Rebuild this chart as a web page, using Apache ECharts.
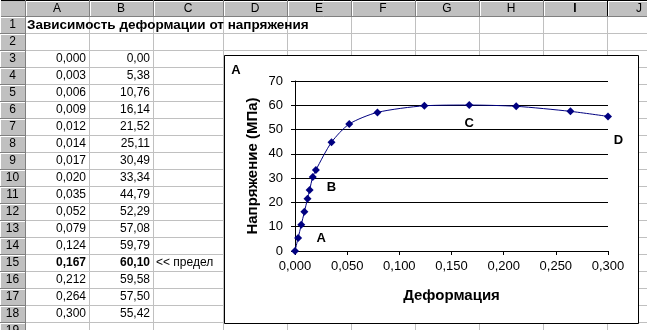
<!DOCTYPE html>
<html><head><meta charset="utf-8">
<script src="https://cdn.jsdelivr.net/npm/echarts@6/dist/echarts.min.js"></script>
<style>html,body{margin:0;padding:0;background:#fff}#c{width:647px;height:330px}</style>
</head><body><div id="c"></div>
<script>
// ---- data ----
const strain = [0.000,0.003,0.006,0.009,0.012,0.014,0.017,0.020,0.035,0.052,0.079,0.124,0.167,0.212,0.264,0.300];
const stress = [0.00,5.38,10.76,16.14,21.52,25.11,30.49,33.34,44.79,52.29,57.08,59.79,60.10,59.58,57.50,55.42];
const columnLetters = ['A','B','C','D','E','F','G','H','I','J'];
const sheetTitle = 'Зависимость деформации от напряжения';
const limitNote = '<< предел';
const xAxisName = 'Деформация';
const yAxisName = 'Напряжение (МПа)';
const yRange = [0, 70, 10];
const xRange = [0, 0.3, 0.05];
const pointNames = ['A','B','C','D'];
const pointAnchors = [[0.025,5.0],[0.035,26.0],[0.167,52.6],[0.31,45.6]];
const cornerLabel = 'A';

// ---- layout / style ----
const FONT = "'Liberation Sans', Arial, sans-serif";
const W = 647, H = 330;
const colX = [25,89,153,223,287,351,415,479,543,607,671];
const rowY = r => 16 + 17 * r;
const firstDataRow = 3;
const lastRow = 19;
const selectedCol = 8; // I
const limitIdx = stress.indexOf(Math.max(...stress));
const fmt = (v, d) => v.toFixed(d).replace('.', ',');

const g = [];
const Z = -10;
function line(x1,y1,x2,y2,c,z){ g.push({type:'line', z:z||Z, silent:true, shape:{x1,y1,x2,y2}, style:{stroke:c, lineWidth:1}}); }
function rect(x,y,w,h,fill,z){ g.push({type:'rect', z:z||Z, silent:true, shape:{x,y,width:w,height:h}, style:{fill:fill}}); }
function text(x,y,s,opt){ g.push({type:'text', z:(opt&&opt.z)||Z+1, silent:true, x:x, y:y, style:Object.assign({text:s, font:'12px '+FONT, fill:'#000', align:'left', verticalAlign:'middle'}, opt||{})}); }

// cell gridlines
for (let k = 1; k < colX.length; k++) line(colX[k]+0.5, 16, colX[k]+0.5, H, '#c0c0c0');
for (let r = 1; r <= lastRow; r++) line(25, rowY(r)+0.5, W, rowY(r)+0.5, '#c0c0c0');

// column header
rect(0, 0, W, 17, '#c0c0c0');
line(0, 0.5, W, 0.5, '#000');
for (let k = 0; k < columnLetters.length; k++) {
  const x0 = colX[k], x1 = colX[k+1];
  const sel = k === selectedCol;
  line(x0+1.5, 1, x0+1.5, 16, '#fff');
  line(x0+1, 1.5, x1, 1.5, '#fff');
  line(x1+0.5, 0, x1+0.5, 17, sel ? '#000' : '#808080');
  text((x0+x1)/2, 9, columnLetters[k], {align:'center', font:(sel?'bold ':'')+'12px '+FONT});
}
line(0, 16.5, W, 16.5, '#808080');
// row header
rect(0, 17, 25, H-17, '#c0c0c0');
line(0.5, 0, 0.5, H, '#fff');
line(25.5, 0, 25.5, H, '#808080');
for (let r = 1; r <= lastRow; r++) {
  line(1, rowY(r-1)+1.5, 25, rowY(r-1)+1.5, '#fff');
  line(0, rowY(r)+0.5, 25, rowY(r)+0.5, '#808080');
  text(12.5, rowY(r) - 8, String(r), {align:'center'});
}
// cells
text(27, rowY(1) - 8, sheetTitle, {font:'bold 13.5px '+FONT});
strain.forEach((v, i) => {
  const r = firstDataRow + i, y = rowY(r) - 8;
  const b = i === limitIdx ? 'bold ' : '';
  text(colX[1]-3, y, fmt(v,3), {align:'right', font:b+'12px '+FONT});
  text(colX[2]-3, y, fmt(stress[i],2), {align:'right', font:b+'12px '+FONT});
  if (i === limitIdx) text(colX[2]+3, y, limitNote, {});
});
// chart box
g.push({type:'rect', z:-5, silent:true, shape:{x:224.5, y:55.5, width:414, height:268}, style:{fill:'#fff', stroke:'#000', lineWidth:1}});
g.push({type:'text', z:-4, silent:true, x:236, y:70, style:{text:cornerLabel, font:'bold 13px '+FONT, fill:'#000', align:'center', verticalAlign:'middle'}});

const chart = echarts.init(document.getElementById('c'), null, {renderer:'canvas'});
chart.setOption({
  animation: false,
  backgroundColor: '#fff',
  graphic: {elements: g},
  grid: {left: 295, top: 81, right: 39, bottom: 79, containLabel: false},
  xAxis: {
    type: 'value', min: xRange[0], max: xRange[1], interval: xRange[2],
    axisLine: {show: true, onZero: false, lineStyle: {color: '#000', width: 1}},
    axisTick: {show: true, length: 4, lineStyle: {color: '#000'}},
    axisLabel: {formatter: v => fmt(v,3), fontSize: 13, color: '#000', fontFamily: FONT, margin: 9},
    splitLine: {show: false},
    name: xAxisName, nameLocation: 'middle', nameGap: 37,
    nameTextStyle: {fontWeight: 'bold', fontSize: 15, color: '#000', fontFamily: FONT}
  },
  yAxis: {
    type: 'value', min: yRange[0], max: yRange[1], interval: yRange[2],
    axisLine: {show: true, lineStyle: {color: '#000', width: 1}},
    axisTick: {show: true, length: 4, lineStyle: {color: '#000'}},
    axisLabel: {fontSize: 13, color: '#000', fontFamily: FONT, margin: 12},
    splitLine: {show: true, lineStyle: {color: '#000', width: 1}},
    name: yAxisName, nameLocation: 'middle', nameGap: 35, nameRotate: 90,
    nameTextStyle: {fontWeight: 'bold', fontSize: 15, color: '#000', fontFamily: FONT}
  },
  series: [{
    type: 'line',
    data: strain.map((x, i) => [x, stress[i]]),
    smooth: 0.25,
    symbol: 'diamond', symbolSize: 8,
    itemStyle: {color: '#000080'},
    lineStyle: {color: '#000080', width: 1},
    emphasis: {disabled: true}
  }]
});
// region letters placed through the axes' own scales
const letterEls = pointNames.map((n, i) => {
  const p = chart.convertToPixel({gridIndex: 0}, pointAnchors[i]);
  return {type:'text', z:5, silent:true, x:p[0], y:p[1],
    style:{text:n, font:'bold 13px '+FONT, fill:'#000', align:'center', verticalAlign:'middle'}};
});
chart.setOption({graphic: {elements: g.concat(letterEls)}});
</script></body></html>
